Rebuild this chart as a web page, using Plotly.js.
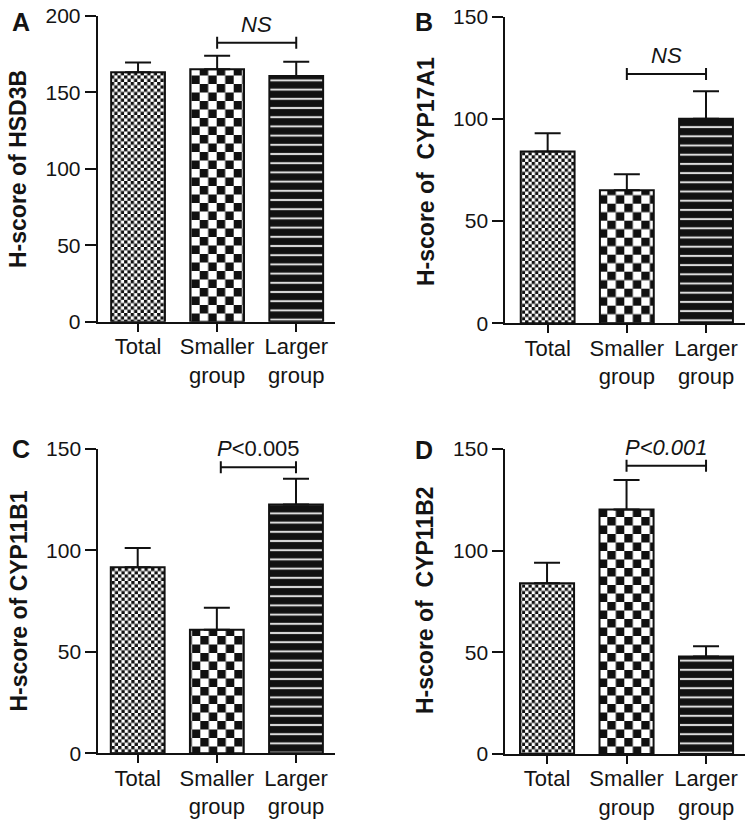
<!DOCTYPE html>
<html><head><meta charset="utf-8">
<script src="https://cdn.plot.ly/plotly-3.0.1.min.js"></script>
<style>html,body{margin:0;padding:0;background:#fff}</style>
</head><body><div id="chart" style="width:754px;height:828px"></div>
<script>
// ---------- data ----------
const categories = ['Total', 'Smaller<br>group', 'Larger<br>group'];
const panelLetters = ['A', 'B', 'C', 'D'];
const yTitles = ['H-score of HSD3B', 'H-score of\u00a0 CYP17A1', 'H-score of CYP11B1', 'H-score of\u00a0 CYP11B2'];
const yMax = [200, 150, 150, 150];
const yDtick = [50, 50, 50, 50];
const hsd3bMean = [163.2, 165.1, 160.7];
const hsd3bSem = [6.3, 8.9, 9.4];
const cyp17a1Mean = [84.0, 65.1, 100.1];
const cyp17a1Sem = [9.0, 7.8, 13.4];
const cyp11b1Mean = [91.7, 60.9, 122.7];
const cyp11b1Sem = [9.5, 10.9, 12.6];
const cyp11b2Mean = [84.0, 120.2, 47.9];
const cyp11b2Sem = [10.0, 14.6, 5.1];
const sigLabels = ['<i>NS</i>', '<i>NS</i>', '<i>P</i>&lt;0.005', '<i>P&lt;0.001</i>'];
const sigHeights = [182.5, 122, 141, 141.8];
const sigFrom = [1, 1, 1.05, 1];
const sigTo = [2, 2, 2, 2];

// ---------- layout geometry (px) ----------
const W = 754, H = 828;
const FONT = 'Liberation Sans, Arial, Helvetica, sans-serif';
const INK = '#141414';
const panels = [
  {l: 97.7, r: 335, t: 16, b: 321.7, xr: [-0.51, 2.49], letter: [20.7, 22], title: [18, 169]},
  {l: 505.3, r: 745.3, t: 16.7, b: 323.3, xr: [-0.535, 2.496], letter: [423.7, 21.5], title: [425.3, 171.7]},
  {l: 98.3, r: 335, t: 449, b: 753.3, xr: [-0.498, 2.493], letter: [20.8, 449], title: [18, 601.5]},
  {l: 505.3, r: 745, t: 449, b: 754, xr: [-0.525, 2.49], letter: [423.7, 450], title: [425, 600]}
];
const means = [hsd3bMean, cyp17a1Mean, cyp11b1Mean, cyp11b2Mean];
const sems = [hsd3bSem, cyp17a1Sem, cyp11b1Sem, cyp11b2Sem];

function checker(s) {
  const h = s / 2;
  return 'M0,0H' + h + 'V' + h + 'H0Z M' + h + ',' + h + 'H' + s + 'V' + s + 'H' + h + 'Z';
}

const traces = [];
const layout = {
  width: W, height: H, margin: {l: 0, r: 0, t: 0, b: 0},
  paper_bgcolor: '#fff', plot_bgcolor: 'rgba(0,0,0,0)',
  showlegend: false,
  font: {family: FONT, color: INK},
  annotations: [], shapes: []
};

panels.forEach((p, i) => {
  const n = i + 1;
  const xa = 'xaxis' + (n === 1 ? '' : n), ya = 'yaxis' + (n === 1 ? '' : n);
  const xr = 'x' + (n === 1 ? '' : n), yr = 'y' + (n === 1 ? '' : n);
  traces.push({
    type: 'bar', x: categories, y: means[i], xaxis: xr, yaxis: yr,
    width: 0.68,
    marker: {color: '#fff', line: {color: '#111', width: 2},
      pattern: {shape: ['', '', '-'], size: 9.2, solidity: 0.78,
                fgcolor: '#111', bgcolor: '#dcdcdc', fillmode: 'replace'}},
    error_y: {type: 'data', symmetric: false, array: sems[i], arrayminus: [0, 0, 0],
              color: '#111', thickness: 2, width: 13},
    hoverinfo: 'skip'
  });
  layout[xa] = {
    domain: [p.l / W, p.r / W], anchor: yr, type: 'category', range: p.xr,
    showline: true, linecolor: '#111', linewidth: 2, ticks: 'outside', ticklen: 8,
    tickwidth: 2, tickcolor: '#111', showgrid: false, zeroline: false, ticklabelstandoff: -4,
    tickfont: {size: 22, color: INK, family: FONT}, fixedrange: true
  };
  layout[ya] = {
    domain: [1 - p.b / H, 1 - p.t / H], anchor: xr, range: [0, yMax[i]], dtick: yDtick[i],
    showline: true, linecolor: '#111', linewidth: 2, ticks: 'outside', ticklen: 11,
    tickwidth: 2, tickcolor: '#111', showgrid: false, zeroline: false,
    tickfont: {size: 21, color: INK, family: FONT}, fixedrange: true
  };
  layout.annotations.push({xref: 'paper', yref: 'paper', x: p.letter[0] / W, y: 1 - p.letter[1] / H,
    xanchor: 'center', yanchor: 'middle', text: panelLetters[i], showarrow: false,
    font: {size: 25, weight: 'bold', color: INK, family: FONT}});
  layout.annotations.push({xref: 'paper', yref: 'paper', x: p.title[0] / W, y: 1 - p.title[1] / H,
    xanchor: 'center', yanchor: 'middle', text: yTitles[i], textangle: -90, showarrow: false,
    font: {size: 23, weight: 'bold', color: INK, family: FONT}});
  const ln = {color: '#111', width: 2};
  layout.shapes.push({type: 'line', xref: xr, yref: yr, x0: sigFrom[i], x1: sigTo[i],
    y0: sigHeights[i], y1: sigHeights[i], line: ln});
  [sigFrom[i], sigTo[i]].forEach(xv => {
    layout.shapes.push({type: 'line', xref: xr, yref: yr, x0: xv, x1: xv,
      ysizemode: 'pixel', yanchor: sigHeights[i], y0: -6, y1: 6, line: ln});
  });
  layout.annotations.push({xref: xr, yref: yr, x: (sigFrom[i] + sigTo[i]) / 2, y: sigHeights[i],
    xanchor: 'center', yanchor: 'bottom', yshift: 4, text: sigLabels[i], showarrow: false,
    font: {size: 22, color: INK, family: FONT}});
});

Plotly.newPlot('chart', traces, layout, {staticPlot: true, displayModeBar: false}).then(gd => {
  // checkerboard fills (Total: fine, Smaller group: coarse) on the bars Plotly drew
  const svg = gd.querySelector('svg.main-svg');
  const ns = 'http://www.w3.org/2000/svg';
  let defs = svg.querySelector('defs');
  if (!defs) { defs = document.createElementNS(ns, 'defs'); svg.insertBefore(defs, svg.firstChild); }
  [[6.6, 'chkS'], [17, 'chkL']].forEach(([s, id]) => {
    const pat = document.createElementNS(ns, 'pattern');
    pat.setAttribute('id', id); pat.setAttribute('patternUnits', 'userSpaceOnUse');
    pat.setAttribute('width', s); pat.setAttribute('height', s);
    const bg = document.createElementNS(ns, 'rect');
    bg.setAttribute('width', s); bg.setAttribute('height', s); bg.setAttribute('fill', '#fff');
    const pth = document.createElementNS(ns, 'path');
    pth.setAttribute('d', checker(s)); pth.setAttribute('fill', '#111');
    pat.appendChild(bg); pat.appendChild(pth); defs.appendChild(pat);
  });
  gd.querySelectorAll('.barlayer .trace').forEach(tr => {
    const pts = tr.querySelectorAll('.point > path');
    if (pts[0]) { pts[0].style.setProperty('fill', 'url(#chkS)', 'important'); pts[0].style.setProperty('fill-opacity', '1', 'important'); }
    if (pts[1]) { pts[1].style.setProperty('fill', 'url(#chkL)', 'important'); pts[1].style.setProperty('fill-opacity', '1', 'important'); }
  });
});
</script></body></html>
